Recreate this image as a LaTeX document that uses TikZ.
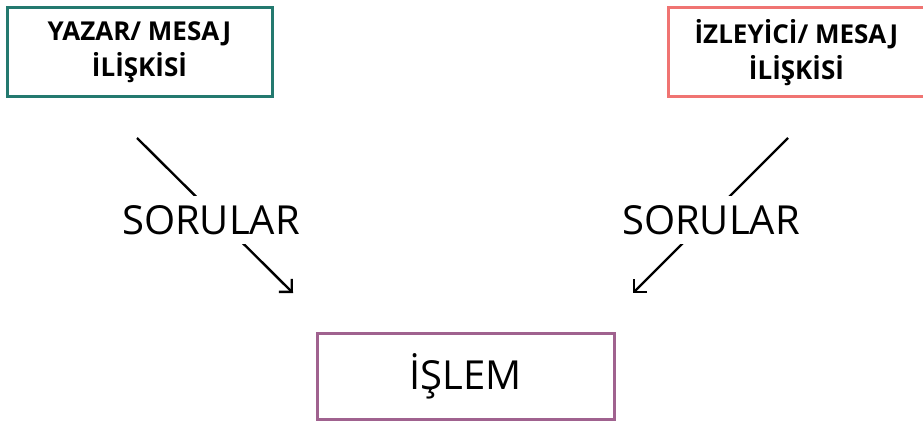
\documentclass[tikz,border=0pt]{standalone}
\usepackage{fontspec}
\setmainfont{Open Sans}
\usetikzlibrary{arrows.meta}
\definecolor{yazarcol}{HTML}{23796F}
\definecolor{izlecol}{HTML}{F07472}
\definecolor{islemcol}{HTML}{A0628F}
\begin{document}
\begin{tikzpicture}[x=1pt,y=-1pt,
        kutu/.style={draw,line width=3pt,minimum height=89pt,align=center,
          font=\bfseries\fontsize{26}{36}\selectfont},
        soru/.style={fill=white,inner xsep=2pt,inner ysep=9pt,
          font=\fontsize{40}{40}\selectfont},
        ok/.style={line width=2.4pt,-{Straight Barb[angle=90:13pt]}}]
        \useasboundingbox (0,0) rectangle (923,422);
        % ust kutular
        \node[kutu,draw=yazarcol,minimum width=265pt] (yazar) at (139.5,52.5) {YAZAR/ MESAJ\\İLİŞKİSİ};
        \node[kutu,draw=izlecol,minimum width=257pt] (izle) at (796.5,52.5) {İZLEYİCİ/ MESAJ\\İLİŞKİSİ};
        % alt kutu
        \node[draw=islemcol,line width=3pt,minimum width=297pt,minimum height=86pt,
          font=\fontsize{40}{40}\selectfont] (islem) at (465.5,376) {İŞLEM};
        % oklar
        \coordinate (sol1) at (137,138);
        \coordinate (sol2) at (293,293);
        \coordinate (sag1) at (788,138);
        \coordinate (sag2) at (633,293);
        \draw[ok] (sol1) -- (sol2);
        \draw[ok] (sag1) -- (sag2);
        \node[soru] (soru1) at (211,220) {SORULAR};
        \node[soru] (soru2) at (711,220) {SORULAR};
\end{tikzpicture}
\end{document}
